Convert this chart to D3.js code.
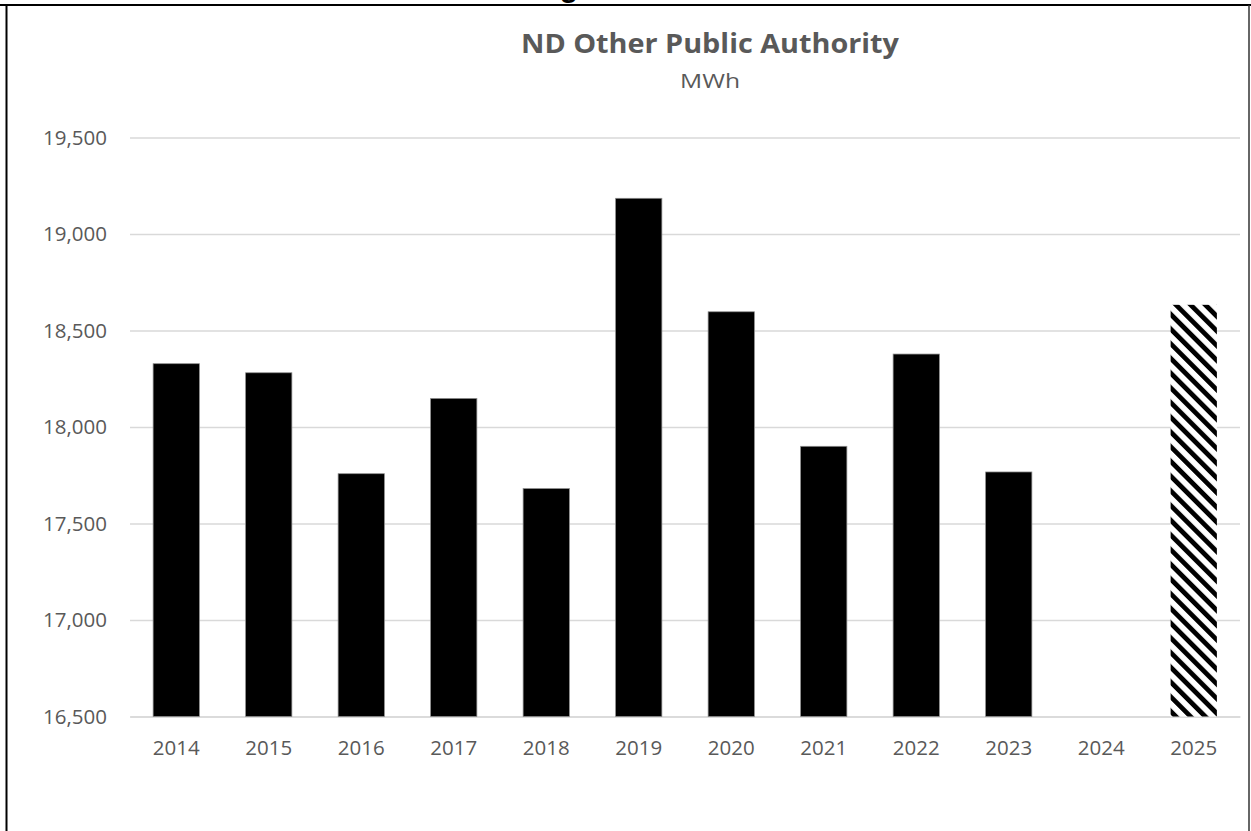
<!DOCTYPE html>
<html>
<head>
<meta charset="utf-8">
<script src="https://cdn.jsdelivr.net/npm/d3@7"></script>
<style>
  html, body { margin: 0; padding: 0; background: #fff; }
  svg { display: block; }
</style>
</head>
<body>
<svg id="chart" width="1251" height="831"></svg>
<script>
// Annual MWh, ND Other Public Authority
const years = ["2014","2015","2016","2017","2018","2019","2020","2021","2022","2023","2024","2025"];
const actualMWh = [18328, 18281, 17758, 18148, 17681, 19185, 18597, 17900, 18378, 17767, null, null];
const forecastMWh = [null, null, null, null, null, null, null, null, null, null, null, 18633];
const yTicks = [16500, 17000, 17500, 18000, 18500, 19000, 19500];
const titleText = "ND Other Public Authority";
const unitText = "MWh";

const svg = d3.select("#chart");
const W = 1251, H = 831;
const font = "'Open Sans', 'Noto Sans', sans-serif";
const grey = "#595959";

const plot = { left: 130, right: 1240, top: 137.5, bottom: 716.5 };

const x = d3.scaleBand()
  .domain(years)
  .range([plot.left, plot.right])
  .paddingInner(0.5)
  .paddingOuter(0.25);

const y = d3.scaleLinear()
  .domain([16500, 19500])
  .range([plot.bottom, plot.top]);

// diagonal hatch used for the forecast year
const defs = svg.append("defs");
const pat = defs.append("pattern")
  .attr("id", "hatch")
  .attr("patternUnits", "userSpaceOnUse")
  .attr("width", 10.4)
  .attr("height", 10.4)
  .attr("patternTransform", "rotate(-45)");
pat.append("rect").attr("width", 10.4).attr("height", 10.4).attr("fill", "#fff");
pat.append("rect").attr("x", 0).attr("y", 0).attr("width", 4.8).attr("height", 10.4).attr("fill", "#000");

// frame
svg.append("rect").attr("x", 0).attr("y", 0).attr("width", W).attr("height", H).attr("fill", "#fff");
svg.append("line").attr("x1", 0).attr("x2", W).attr("y1", 5).attr("y2", 5)
  .attr("stroke", "#000").attr("stroke-width", 2);
svg.append("line").attr("x1", 6.5).attr("x2", 6.5).attr("y1", 5).attr("y2", H)
  .attr("stroke", "#000").attr("stroke-width", 2);
svg.append("line").attr("x1", 1249).attr("x2", 1249).attr("y1", 5).attr("y2", H)
  .attr("stroke", "#333").attr("stroke-width", 1.5);

// heading descender above the frame
svg.append("text")
  .attr("x", 569).attr("y", -3)
  .attr("text-anchor", "middle")
  .attr("font-family", "'Liberation Sans', Arial, sans-serif")
  .attr("font-weight", "bold")
  .attr("font-size", 30)
  .attr("fill", "#000")
  .text("g");

// title
const t = svg.append("text")
  .attr("x", 710).attr("y", 53)
  .attr("text-anchor", "middle")
  .attr("font-family", font)
  .attr("font-weight", "bold")
  .attr("font-size", 26)
  .attr("fill", grey)
  .text(titleText);
t.attr("textLength", 378).attr("lengthAdjust", "spacingAndGlyphs");

svg.append("text")
  .attr("x", 710).attr("y", 88)
  .attr("text-anchor", "middle")
  .attr("font-family", font)
  .attr("font-size", 20)
  .attr("fill", grey)
  .text(unitText)
  .attr("textLength", 60).attr("lengthAdjust", "spacingAndGlyphs");

// gridlines + y labels
const yAxis = d3.axisLeft(y)
  .tickValues(yTicks)
  .tickSize(-(plot.right - plot.left))
  .tickPadding(23)
  .tickFormat(d3.format(","));
const gy = svg.append("g").attr("transform", `translate(${plot.left},0)`).call(yAxis);
gy.select(".domain").remove();
gy.selectAll(".tick line").attr("stroke", "#d9d9d9").attr("stroke-width", 1.5);
gy.selectAll(".tick text")
  .attr("font-family", font).attr("font-size", 20.5).attr("fill", grey);

// x labels
const xAxis = d3.axisBottom(x).tickSize(0).tickPadding(24);
const gx = svg.append("g").attr("transform", `translate(0,${plot.bottom})`).call(xAxis);
gx.select(".domain").attr("stroke", "#d9d9d9").attr("stroke-width", 1.5);
gx.selectAll(".tick text")
  .attr("font-family", font).attr("font-size", 20.5).attr("fill", grey);

// actual bars
svg.append("g").selectAll("rect")
  .data(years.map((yr, i) => ({ yr, v: actualMWh[i] })).filter(d => d.v != null))
  .join("rect")
  .attr("x", d => x(d.yr))
  .attr("width", x.bandwidth())
  .attr("y", d => y(d.v))
  .attr("height", d => y(16500) - y(d.v))
  .attr("fill", "#000")
  .attr("stroke", "#8c8c8c")
  .attr("stroke-width", 0.75);

// forecast bar
svg.append("g").selectAll("rect")
  .data(years.map((yr, i) => ({ yr, v: forecastMWh[i] })).filter(d => d.v != null))
  .join("rect")
  .attr("x", d => x(d.yr))
  .attr("width", x.bandwidth())
  .attr("y", d => y(d.v))
  .attr("height", d => y(16500) - y(d.v))
  .attr("fill", "url(#hatch)");
</script>
</body>
</html>
